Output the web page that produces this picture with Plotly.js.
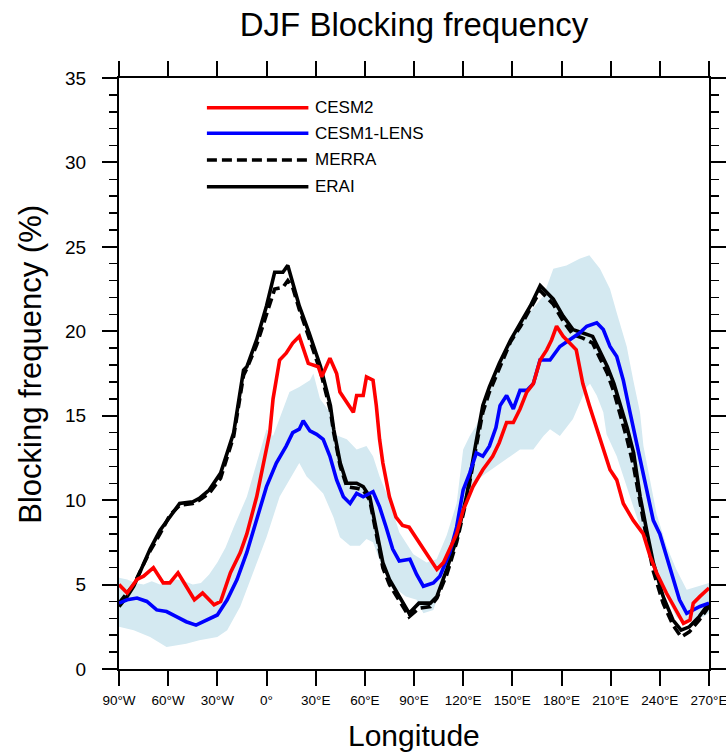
<!DOCTYPE html>
<html>
<head>
<meta charset="utf-8">
<script src="https://cdn.plot.ly/plotly-3.0.1.min.js"></script>
<style>html,body{margin:0;padding:0;background:#fff;}#chart{width:726px;height:754px;}</style>
</head>
<body>
<div id="chart"></div>
<script>
// ---- Data ----
const xTickVals = [-90, -60, -30, 0, 30, 60, 90, 120, 150, 180, 210, 240, 270];
const xTickText = ["90°W", "60°W", "30°W", "0°", "30°E", "60°E", "90°E", "120°E", "150°E", "180°E", "210°E", "240°E", "270°E"];

const eraiLon = [-90, -85, -81, -75, -71, -65, -59, -53, -45, -41, -35, -28, -24, -20, -14, -12, -6, 0, 5, 10, 13, 16, 20, 26, 33, 39, 41, 45, 49, 55, 59, 63, 67, 71, 75, 81, 87, 93, 100, 104, 110, 116, 122, 128, 132, 136, 142, 149, 155, 161, 167, 171, 175, 181, 187, 193, 199, 203, 208, 212, 216, 220, 224, 228, 232, 236, 242, 248, 253, 258, 264, 270];
const eraiVal = [3.7, 4.3, 4.9, 6.3, 7.1, 8.2, 9.0, 9.8, 9.9, 10.1, 10.6, 11.6, 12.8, 14.0, 17.7, 17.9, 19.5, 21.5, 23.5, 23.5, 23.9, 22.9, 21.5, 19.9, 17.9, 15.6, 14.2, 12.2, 11.0, 11.0, 10.8, 10.2, 8.2, 6.3, 5.3, 4.3, 3.3, 3.9, 3.9, 4.3, 5.9, 7.7, 10.2, 13.5, 15.6, 16.7, 18.1, 19.5, 20.5, 21.5, 22.7, 22.3, 21.9, 20.9, 20.1, 19.9, 19.7, 18.9, 17.9, 16.9, 15.6, 14.3, 12.8, 10.2, 8.2, 6.3, 4.3, 2.9, 2.3, 2.5, 3.1, 3.9];

const merraLon = eraiLon;
const merraVal = [3.9, 4.5, 5.0, 6.2, 7.0, 8.0, 9.1, 9.7, 9.8, 10.0, 10.4, 11.3, 12.5, 13.8, 17.4, 17.8, 19.2, 21.0, 22.5, 22.6, 23.0, 22.6, 21.3, 19.6, 17.6, 15.3, 14.0, 12.0, 10.8, 10.7, 10.6, 10.0, 8.0, 6.0, 5.0, 4.0, 3.1, 3.6, 3.7, 4.2, 5.6, 7.5, 10.0, 13.2, 15.2, 16.4, 17.8, 19.4, 20.3, 21.4, 22.4, 22.0, 21.6, 20.6, 19.8, 19.6, 19.3, 18.5, 17.5, 16.4, 15.0, 13.6, 12.0, 9.7, 7.7, 5.8, 3.9, 2.6, 1.9, 2.2, 2.9, 3.7];

const cesm2Lon = [-90, -85, -79, -75, -69, -63, -59, -54, -49, -44, -39, -32, -28, -22, -16, -12, -6, -2, 2, 4, 8, 12, 16, 20, 22.5, 25.5, 31.6, 33.7, 38.7, 42.8, 44.8, 48.9, 53, 55, 59, 61, 65, 67, 69, 71, 75, 79, 83, 87, 93, 100, 104, 108, 112, 116, 120, 126, 132, 138, 142, 146.5, 150.6, 154.7, 158.8, 162.8, 167, 171, 174, 177, 181, 185, 189, 191, 193, 197, 201.5, 205.5, 209.6, 213.7, 217.7, 223.8, 229.9, 234, 238, 244, 250, 254.4, 258.4, 260.4, 264.5, 270];
const cesm2Val = [5.0, 4.5, 5.3, 5.5, 6.0, 5.1, 5.1, 5.7, 4.9, 4.1, 4.5, 3.8, 4.0, 5.7, 6.9, 8.0, 10.2, 12.2, 14.0, 16.0, 18.3, 18.7, 19.3, 19.7, 18.9, 18.1, 17.9, 17.3, 18.4, 17.5, 16.4, 15.8, 15.2, 16.2, 16.2, 17.3, 17.1, 15.6, 13.6, 12.2, 10.2, 9.0, 8.5, 8.4, 7.5, 6.5, 5.9, 6.3, 7.1, 8.0, 9.4, 10.8, 11.8, 12.6, 13.4, 14.6, 14.6, 15.4, 16.4, 16.9, 18.3, 18.9, 19.5, 20.3, 19.7, 19.3, 18.9, 17.9, 16.9, 15.6, 14.3, 13.0, 11.8, 11.2, 9.8, 8.8, 8.0, 6.7, 5.7, 4.5, 3.5, 2.7, 2.9, 3.9, 4.3, 4.8];

const lensLon = [-90, -85, -79, -73, -67, -61, -55, -49, -43, -37, -30, -24, -18, -12, -6, 0, 6, 12, 16, 20, 22.4, 26.5, 30.6, 34.6, 38.7, 42.8, 46.9, 51, 55, 59, 65, 69, 73, 77, 81, 87.5, 91.6, 95.7, 101.8, 105.8, 111.9, 116, 120, 124, 128, 132, 136, 140, 142.5, 146.5, 150.6, 154.7, 158.8, 162.8, 166.9, 173, 179, 185, 191, 195.4, 201.5, 205.5, 209.6, 213.7, 217.7, 221.8, 224.5, 227.9, 232, 236, 240, 244, 248, 252, 256.4, 260.5, 264.5, 270];
const lensVal = [3.9, 4.1, 4.2, 4.0, 3.5, 3.4, 3.1, 2.8, 2.6, 2.9, 3.2, 4.1, 5.3, 6.9, 8.8, 10.8, 12.2, 13.2, 14.0, 14.2, 14.7, 14.1, 13.9, 13.6, 12.6, 11.2, 10.2, 9.8, 10.4, 10.2, 10.5, 9.6, 8.4, 7.1, 6.4, 6.5, 5.6, 4.9, 5.1, 5.5, 6.9, 8.4, 10.6, 11.6, 12.8, 12.6, 13.2, 14.3, 15.6, 16.2, 15.4, 16.5, 16.5, 16.9, 18.3, 18.3, 19.1, 19.5, 19.9, 20.3, 20.5, 20.1, 19.1, 18.5, 17.1, 15.2, 14.0, 12.6, 10.6, 8.8, 8.0, 6.7, 5.5, 4.1, 3.3, 3.5, 3.7, 3.9];

const spreadHiLon = [-90, -85, -80, -75, -70, -65, -60, -55, -50, -45, -40, -35, -30, -25, -20, -12, -6, 0, 4, 8, 14, 20, 26.5, 28.6, 32.6, 38.7, 41, 49, 55, 61, 65, 69, 75, 81, 89.6, 97.7, 103.8, 109.9, 116, 120, 124, 128, 134, 138, 142.5, 148.6, 158.8, 169, 175, 183, 191, 197, 203.5, 209.6, 213.7, 219.8, 223.8, 227.9, 230, 234, 238, 244, 250, 256.4, 262.5, 270];
const spreadHiVal = [5.4, 5.3, 5.1, 5.0, 5.2, 5.0, 5.2, 5.3, 5.2, 5.0, 5.1, 5.6, 6.3, 7.2, 8.4, 10.2, 12.2, 14.2, 13.8, 14.8, 16.4, 16.7, 17.1, 17.5, 16.0, 15.2, 13.9, 13.6, 13.0, 13.2, 12.6, 11.4, 10.0, 8.1, 6.8, 6.3, 6.5, 7.9, 9.8, 13.0, 13.8, 14.4, 16.0, 17.1, 17.9, 19.5, 20.9, 22.1, 23.7, 23.9, 24.3, 24.5, 23.7, 22.5, 21.1, 19.1, 17.1, 15.2, 13.2, 11.2, 9.2, 7.3, 5.9, 4.7, 4.9, 5.1];

const spreadLoLon = [-90, -81, -71, -61, -49, -41, -30, -24, -16, -8, 0, 8, 14, 20, 24.5, 28.6, 34.6, 40.8, 44.8, 51, 57, 61, 65, 71, 77, 85, 91.6, 95.7, 101.8, 105.8, 111.9, 116, 120, 126, 134, 140, 148.6, 154.7, 162.8, 169, 173, 179, 187, 195.4, 197.4, 201.5, 205.5, 207.5, 213.7, 219.8, 225.9, 232, 238, 244, 250, 254.4, 260.5, 266.6, 270];
const spreadLoVal = [2.5, 2.3, 1.9, 1.3, 1.5, 1.7, 1.9, 2.3, 3.7, 5.7, 7.8, 10.2, 11.2, 12.2, 11.4, 11.0, 10.4, 9.0, 7.8, 7.3, 7.3, 7.7, 7.5, 5.9, 4.9, 4.3, 4.1, 3.3, 3.5, 4.7, 6.7, 8.4, 9.6, 11.0, 11.6, 12.0, 12.6, 13.0, 13.0, 13.8, 14.2, 13.8, 14.8, 16.7, 16.9, 16.2, 15.2, 13.9, 12.6, 10.8, 9.0, 7.3, 5.7, 4.3, 3.1, 2.7, 2.9, 3.1, 3.3];

const seriesNames = ["CESM2", "CESM1-LENS", "MERRA", "ERAI"];
const seriesColors = ["#ff0000", "#0000ff", "#000000", "#000000"];
const seriesDash = ["solid", "solid", "10px,5px", "solid"];

// ---- Traces ----
const FONT = "Liberation Sans, Arial, Helvetica, sans-serif";
const traces = [];
traces.push({
  x: spreadHiLon.concat(spreadLoLon.slice().reverse()),
  y: spreadHiVal.concat(spreadLoVal.slice().reverse()),
  type: "scatter", mode: "lines", fill: "toself",
  fillcolor: "rgb(212,233,241)", line: {width: 0, color: "rgba(0,0,0,0)"},
  hoverinfo: "skip", showlegend: false
});
const seriesX = [cesm2Lon, lensLon, merraLon, eraiLon];
const seriesY = [cesm2Val, lensVal, merraVal, eraiVal];
const order = [3, 2, 1, 0];
order.forEach(i => {
  traces.push({
    x: seriesX[i], y: seriesY[i], name: seriesNames[i],
    type: "scatter", mode: "lines",
    line: {color: seriesColors[i], width: 3.6, dash: seriesDash[i]},
    showlegend: false
  });
});

// ---- Manual legend (keys + labels), paper coordinates ----
const legY = [0.9497, 0.9064, 0.8613, 0.8161];
const shapes = [];
const annotations = [];
seriesNames.forEach((n, i) => {
  shapes.push({type: "line", xref: "paper", yref: "paper",
    x0: 0.149, x1: 0.321, y0: legY[i], y1: legY[i],
    line: {color: seriesColors[i], width: 3.6, dash: seriesDash[i]}});
  annotations.push({xref: "paper", yref: "paper", x: 0.329, y: legY[i],
    xanchor: "left", yanchor: "middle", showarrow: false, text: n,
    font: {family: FONT, size: 17, color: "#000"}});
});
annotations.push({xref: "paper", yref: "paper", x: -0.149, y: 0.515,
  xanchor: "center", yanchor: "middle", textangle: -90, showarrow: false,
  text: "Blocking frequency (%)", font: {family: FONT, size: 31, color: "#000"}});
annotations.push({xref: "paper", yref: "paper", x: 0.5, y: -0.113,
  xanchor: "center", yanchor: "middle", showarrow: false,
  text: "Longitude", font: {family: FONT, size: 30, color: "#000"}});

const layout = {
  width: 726, height: 754,
  margin: {l: 119, r: 17, t: 78, b: 85, pad: 0},
  paper_bgcolor: "#fff", plot_bgcolor: "#fff",
  showlegend: false,
  title: {text: "DJF Blocking frequency", x: 0.5, xref: "paper", y: 1 - 24/754, yref: "container",
    xanchor: "center", yanchor: "middle", font: {family: FONT, size: 33, color: "#000"}},
  xaxis: {range: [-90, 270], tickvals: xTickVals, ticktext: xTickText,
    ticks: "outside", ticklen: 15, tickwidth: 2, tickcolor: "#000",
    showline: true, linewidth: 2, linecolor: "#000", mirror: "allticks",
    showgrid: false, zeroline: false, ticklabelstandoff: 3, ticklabeloverflow: "allow",
    tickfont: {family: FONT, size: 13.5, color: "#000"}},
  yaxis: {range: [0, 35], tick0: 0, dtick: 5,
    ticks: "outside", ticklen: 15, tickwidth: 2, tickcolor: "#000",
    minor: {dtick: 1, ticks: "outside", ticklen: 8, tickwidth: 1.5, tickcolor: "#000", showgrid: false},
    showline: true, linewidth: 2, linecolor: "#000", mirror: "allticks",
    showgrid: false, zeroline: false, ticklabelstandoff: 12,
    tickfont: {family: FONT, size: 19, color: "#000"}},
  shapes: shapes,
  annotations: annotations
};

Plotly.newPlot("chart", traces, layout, {staticPlot: true, displayModeBar: false});
</script>
</body>
</html>
